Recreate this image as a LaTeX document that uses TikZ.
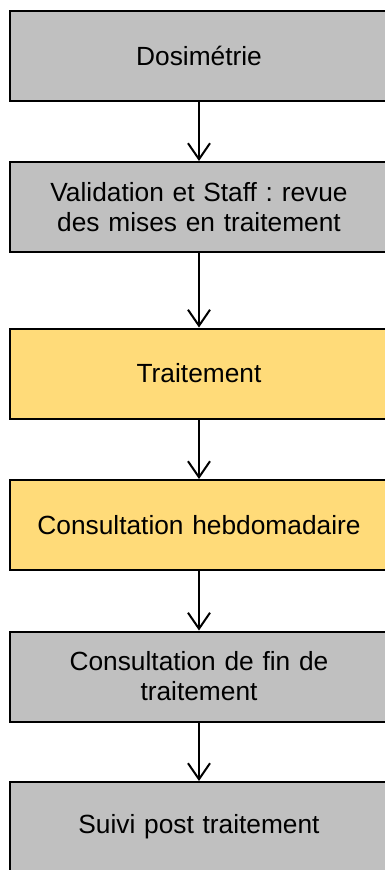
\documentclass[tikz,border=0pt]{standalone}
\usepackage{fontspec}
\setmainfont{Liberation Sans}
\usetikzlibrary{arrows.meta}
\frenchspacing
\definecolor{boxgray}{HTML}{C0C0C0}
\definecolor{boxyellow}{HTML}{FFDB79}
\tikzset{
  stepbox/.style={draw=black, line width=2pt, rectangle, minimum width=378pt, minimum height=90pt,
    align=center, text width=360pt, font=\fontsize{26.3}{30}\selectfont, inner sep=0pt},
  graybox/.style={stepbox, fill=boxgray},
  yellowbox/.style={stepbox, fill=boxyellow},
  flow/.style={draw=black, line width=2pt, -{Straight Barb[length=16pt,width=22pt,line width=2pt]}}
}
\begin{document}
\begin{tikzpicture}[x=1pt,y=1pt]
\useasboundingbox (0,0) rectangle (384,-870);
\node[graybox] (a) at (199,-55.5) {Dosimétrie};
\node[graybox] (b) at (199,-207) {Validation et Staff : revue\\des mises en traitement};
\node[yellowbox] (c) at (199,-373.5) {Traitement};
\node[yellowbox] (d) at (199,-525) {Consultation hebdomadaire};
\node[graybox] (e) at (199,-676.5) {Consultation de fin de\\traitement};
\node[graybox] (f) at (199,-827) {Suivi post traitement};
\draw[flow] (a) -- (b);
\draw[flow] (b) -- (c);
\draw[flow] (c) -- (d);
\draw[flow] (d) -- (e);
\draw[flow] (e) -- (f);
\end{tikzpicture}
\end{document}
